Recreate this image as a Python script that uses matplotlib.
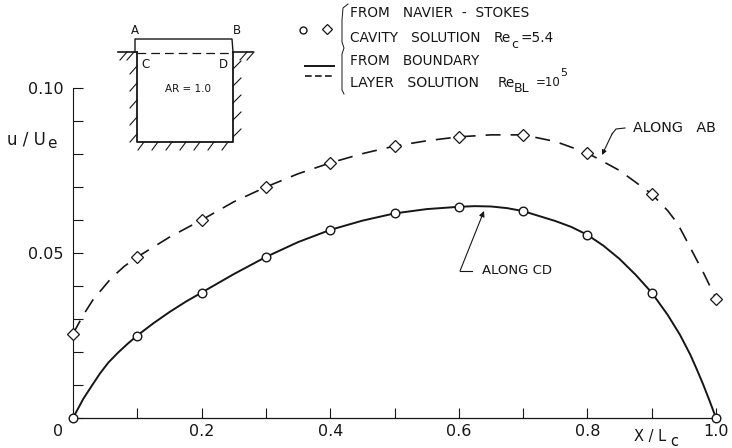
import matplotlib
matplotlib.use('Agg')
import matplotlib.pyplot as plt

plt.rcParams['font.family'] = ['DejaVu Sans']

# points
x_pts = [0.0, 0.1, 0.2, 0.3, 0.4, 0.5, 0.6, 0.7, 0.8, 0.9, 1.0]
u_cd_pts = [0.0, 0.025, 0.038, 0.0488, 0.057, 0.062, 0.064, 0.0627, 0.0555, 0.038, 0.0]
u_ab_pts = [0.0255, 0.0488, 0.060, 0.070, 0.0773, 0.0824, 0.0852, 0.0858, 0.0803, 0.0679, 0.0361]

# curves traced by eye, denser than the markers
x_cd = [0.0, 0.016, 0.03, 0.042, 0.055, 0.07, 0.085, 0.1, 0.125, 0.15, 0.175, 0.2, 0.25, 0.3, 0.35, 0.4,
        0.45, 0.5, 0.55, 0.6, 0.625, 0.65, 0.675, 0.7, 0.75, 0.775, 0.8, 0.825, 0.85, 0.875, 0.9, 0.925, 0.944, 0.96, 0.97, 0.98, 0.99, 1.0]
u_cd = [0.0, 0.0058, 0.0100, 0.0135, 0.0168, 0.0198, 0.0225, 0.025, 0.0287, 0.0321, 0.0352, 0.038, 0.0436, 0.0488, 0.0533, 0.057,
        0.0598, 0.062, 0.0633, 0.064, 0.0642, 0.0641, 0.0636, 0.0627, 0.0597, 0.0579, 0.0555, 0.0522, 0.0482, 0.0434, 0.038, 0.0312, 0.0252, 0.0192, 0.0148, 0.0102, 0.0052, 0.0]
x_ab = [0.0, 0.016, 0.031, 0.06, 0.08, 0.1, 0.15, 0.2, 0.25, 0.3, 0.35, 0.4, 0.45, 0.5, 0.55, 0.6, 0.65, 0.7,
        0.75, 0.8, 0.85, 0.9, 0.925, 0.94, 0.955, 0.97, 0.98, 0.99, 1.0]
u_ab = [0.0255, 0.0312, 0.0358, 0.0425, 0.0460, 0.0488, 0.0548, 0.060, 0.0655, 0.070, 0.0740, 0.0773, 0.0801, 0.0824, 0.0840, 0.0852, 0.0858, 0.0858,
        0.0838, 0.0803, 0.0750, 0.0679, 0.0628, 0.0590, 0.0535, 0.0479, 0.0442, 0.0402, 0.0361]

xticks = [0.0, 0.1, 0.2, 0.3, 0.4, 0.5, 0.6, 0.7, 0.8, 0.9, 1.0]
xticklabels = ['', '', '0.2', '', '0.4', '', '0.6', '', '0.8', '', '1.0']
yticks = [0.0, 0.01, 0.02, 0.03, 0.04, 0.05, 0.06, 0.07, 0.08, 0.09, 0.10]
yticklabels = ['', '', '', '', '', '0.05', '', '', '', '', '0.10']

ink = '#161616'

fig = plt.figure(figsize=(7.32, 4.48), dpi=100)
ax = fig.add_axes([73/732, 30/448, 643/732, 330/448])
ax.set_xlim(0, 1)
ax.set_ylim(0, 0.10)
ax.patch.set_alpha(0)
ax.spines['top'].set_visible(False)
ax.spines['right'].set_visible(False)
ax.spines['left'].set_color(ink)
ax.spines['bottom'].set_color(ink)
ax.spines['left'].set_linewidth(0.8)
ax.spines['bottom'].set_linewidth(0.9)

ax.plot(x_cd, u_cd, color=ink, lw=1.4, zorder=3, clip_on=False)
ax.plot(x_ab, u_ab, color=ink, lw=1.2, dashes=(9, 6), zorder=3, clip_on=False)
ax.plot(x_pts, u_cd_pts, 'o', ms=6.2, mfc='white', mec=ink, mew=1.0, zorder=4, clip_on=False)
ax.plot(x_pts, u_ab_pts, 'D', ms=6.2, mfc='white', mec=ink, mew=0.9, zorder=4, clip_on=False)

ax.set_xticks(xticks)
ax.set_xticklabels(xticklabels, fontsize=11.5, color=ink)
ax.set_yticks(yticks)
ax.set_yticklabels(yticklabels, fontsize=11.5, color=ink)
ax.tick_params(axis='x', direction='in', length=7, width=0.8, pad=4, color=ink)
ax.tick_params(axis='y', direction='in', length=7.5, width=0.8, pad=7, color=ink)

# overlay in picture pixels for the sketch, legend and notes
ov = fig.add_axes([0, 0, 1, 1])
ov.set_xlim(0, 732)
ov.set_ylim(448, 0)
ov.axis('off')
ov.patch.set_alpha(0)

ov.text(58, 431, '0', fontsize=11.5, color=ink, ha='center', va='center')
ov.text(7, 140, 'u / U', fontsize=12, color=ink, va='center')
ov.text(47, 144, 'e', fontsize=11, color=ink, va='center')
ov.text(634, 437, 'X / L', fontsize=10.5, color=ink, ha='left', va='center')
ov.text(670, 441, 'c', fontsize=10.5, color=ink, va='center')

# cavity sketch
ov.plot([135, 135, 232, 233], [52, 39, 39, 52], color=ink, lw=1.0)
ov.plot([137, 137, 233, 233], [52, 142, 142, 52], color=ink, lw=1.3)
ov.plot([118, 137], [52, 52], color=ink, lw=1.2)
ov.plot([233, 253], [52, 52], color=ink, lw=1.2)
ov.plot([137, 233], [53, 53], color=ink, lw=0.9, dashes=(7, 4))
for y0 in range(66, 140, 17):
    ov.plot([130, 137], [y0 + 8, y0], color=ink, lw=0.8)
    ov.plot([233, 241], [y0 + 3, y0 - 5], color=ink, lw=0.8)
for x0 in range(138, 232, 14):
    ov.plot([x0, x0 + 6], [150, 142], color=ink, lw=0.8)
for x0 in [120, 127, 240, 247]:
    ov.plot([x0, x0 + 7], [60, 52], color=ink, lw=0.8)
for s, px, py in [('A', 135, 30), ('B', 237, 30), ('C', 146, 64), ('D', 223, 64)]:
    ov.text(px, py, s, fontsize=8.5, color=ink, ha='center', va='center')
ov.text(188, 89, 'AR = 1.0', fontsize=7.5, color=ink, ha='center', va='center')

# legend
ov.plot([303], [30], 'o', ms=5, mfc='white', mec=ink, mew=1.0)
ov.plot([327], [29], 'D', ms=5.5, mfc='white', mec=ink, mew=0.9)
ov.plot([305, 334], [66, 66], color=ink, lw=1.4)
ov.plot([305, 334], [76, 76], color=ink, lw=1.2, dashes=(4, 2))
ov.plot([348, 343, 342, 342, 344, 342, 342, 344], [4, 8, 20, 42, 48, 54, 90, 94], color=ink, lw=0.7)
ov.text(350, 13, 'FROM   NAVIER  -  STOKES', fontsize=9.8, color=ink, va='center')
ov.text(350, 38, 'CAVITY   SOLUTION', fontsize=9.8, color=ink, va='center')
ov.text(494, 38, 'Re', fontsize=9.8, color=ink, va='center')
ov.text(511, 44, 'c', fontsize=9, color=ink, va='center')
ov.text(521, 38, '=5.4', fontsize=9.8, color=ink, va='center')
ov.text(350, 61, 'FROM   BOUNDARY', fontsize=9.8, color=ink, va='center')
ov.text(350, 83, 'LAYER   SOLUTION', fontsize=10.2, color=ink, va='center')
ov.text(498, 83, 'Re', fontsize=9.8, color=ink, va='center')
ov.text(514, 88, 'BL', fontsize=9, color=ink, va='center')
ov.text(536, 82, '=10', fontsize=8.5, color=ink, va='center')
ov.text(560, 73, '5', fontsize=8, color=ink, va='center')

# callouts
ov.text(633, 128, 'ALONG   AB', fontsize=10.3, color=ink, va='center')
ov.text(482, 270, 'ALONG CD', fontsize=9.5, color=ink, va='center')
ov.plot([625, 616, 612], [128, 129, 134], color=ink, lw=0.8)
ov.annotate('', xy=(602, 155), xytext=(612, 134),
            arrowprops=dict(arrowstyle='-|>', color=ink, lw=0.8, mutation_scale=7, shrinkA=0, shrinkB=0))
ov.plot([472, 460], [271, 271], color=ink, lw=0.8)
ov.annotate('', xy=(484, 211), xytext=(460, 271),
            arrowprops=dict(arrowstyle='-|>', color=ink, lw=0.8, mutation_scale=8, shrinkA=0, shrinkB=0))

fig.savefig('out.png', dpi=100)
